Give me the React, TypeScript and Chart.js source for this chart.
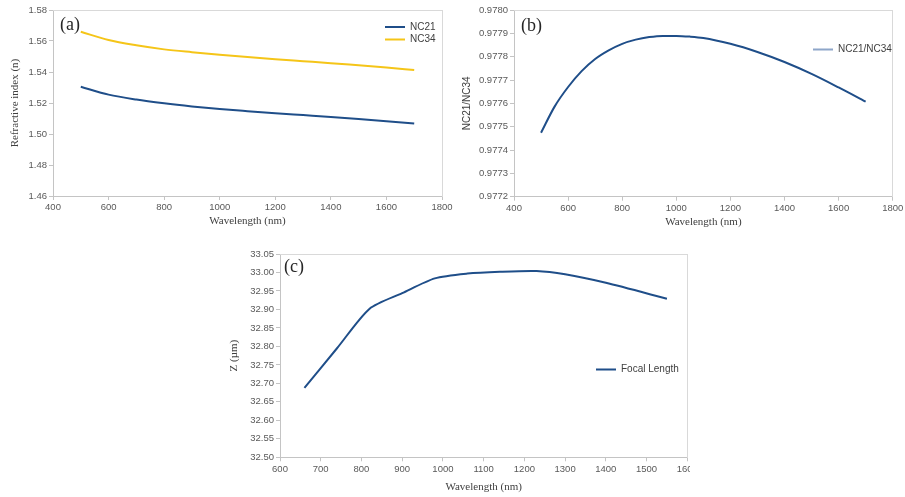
import React, { useEffect, useRef } from 'react';
import { Chart, registerables } from 'chart.js';

Chart.register(...registerables);

// ---------- data ----------
const wavelengthA = [500, 600, 700, 800, 900, 1000, 1100, 1200, 1300, 1400, 1500, 1600, 1700];
const nc21 = [1.5305, 1.5254, 1.5222, 1.5198, 1.5178, 1.5161, 1.5147, 1.5134, 1.5122, 1.511, 1.5097, 1.5083, 1.5067];
const nc34 = [1.566, 1.5606, 1.5572, 1.5546, 1.5528, 1.5512, 1.5497, 1.5483, 1.547, 1.5457, 1.5443, 1.5429, 1.5413];

const wavelengthB = [500, 550, 600, 650, 700, 750, 800, 850, 900, 950, 1000, 1050, 1100, 1200, 1300, 1400, 1500, 1600, 1700];
const ratio = [0.977474, 0.977586, 0.97767, 0.977738, 0.97779, 0.977827, 0.977855, 0.977873, 0.977884, 0.977889, 0.977889, 0.977886, 0.97788, 0.977855, 0.97782, 0.977777, 0.977726, 0.977668, 0.977607];

const wavelengthC = [660, 740, 820, 900, 980, 1060, 1140, 1230, 1300, 1400, 1550];
const focal = [32.688, 32.795, 32.902, 32.944, 32.984, 32.997, 33.002, 33.004, 32.995, 32.972, 32.929];

const labelA = 'NC21';
const labelA2 = 'NC34';
const labelB = 'NC21/NC34';
const labelC = 'Focal Length';

// ---------- styles ----------
const BLUE = '#1F4E89';
const GOLD = '#F5C518';
const LEGEND_B = '#8EA6C9';
const AXIS = '#C4C4C4';
const FRAME = '#D9D9D9';
const TICK_COLOR = '#595959';
const TITLE_COLOR = '#404040';
const SANS = "'Liberation Sans', Arial, sans-serif";
const SERIF = "'Liberation Serif', 'Times New Roman', serif";

const legendPlacer = {
  id: 'legendPlacer',
  afterLayout(chart: any, _args: any, opts: any) {
    const lg = chart.legend;
    if (!lg || opts == null || opts.x == null) return;
    lg.left = opts.x;
    lg.top = opts.y;
    lg.right = opts.x + 160;
    lg.bottom = opts.y + 60;
  },
};

type Spec = {
  width: number;
  height: number;
  pad: { left: number; right: number; top: number; bottom: number };
  yWidth: number;
  xHeight: number;
  xMin: number;
  xMax: number;
  xStep: number;
  yMin: number;
  yMax: number;
  yStep: number;
  yDigits: number;
  xTitle: string;
  yTitle: string;
  yTitleFont: any;
  datasets: any[];
  legendPos: { x: number; y: number };
};

function buildConfig(s: Spec): any {
  const tickFont = { family: SANS, size: 9.5 };
  return {
    type: 'line',
    data: { datasets: s.datasets },
    options: {
      animation: false,
      responsive: false,
      devicePixelRatio: 1,
      layout: { padding: s.pad },
      elements: { point: { radius: 0 } },
      plugins: {
        tooltip: { enabled: false },
        legend: {
          position: 'chartArea',
          align: 'start',
          labels: {
            usePointStyle: true,
            pointStyle: 'line',
            pointStyleWidth: 20,
            padding: 2.5,
            textAlign: 'left',
            color: TITLE_COLOR,
            font: { family: SANS, size: 10 },
          },
        },
        legendPlacer: s.legendPos,
      },
      scales: {
        x: {
          type: 'linear',
          min: s.xMin,
          max: s.xMax,
          ticks: {
            stepSize: s.xStep,
            autoSkip: false,
            maxRotation: 0,
            padding: 2,
            color: TICK_COLOR,
            font: tickFont,
            callback: (v: number) => String(Math.round(v)),
          },
          grid: { display: true, drawOnChartArea: false, drawTicks: true, tickLength: 4, color: AXIS },
          border: { display: true, color: AXIS, width: 1 },
          title: {
            display: true,
            text: s.xTitle,
            color: TITLE_COLOR,
            font: { family: SERIF, size: 11 },
            padding: { top: 0, bottom: 0 },
          },
          afterFit: (sc: any) => {
            sc.height = s.xHeight;
            sc.paddingLeft = 0;
            sc.paddingRight = 0;
          },
        },
        y: {
          type: 'linear',
          min: s.yMin,
          max: s.yMax,
          ticks: {
            stepSize: s.yStep,
            autoSkip: false,
            padding: 2,
            color: TICK_COLOR,
            font: tickFont,
            callback: (v: number) => Number(v).toFixed(s.yDigits),
          },
          grid: { display: true, drawOnChartArea: false, drawTicks: true, tickLength: 4, color: AXIS },
          border: { display: true, color: AXIS, width: 1 },
          title: {
            display: true,
            text: s.yTitle,
            color: TITLE_COLOR,
            font: s.yTitleFont,
            padding: { top: 0, bottom: 0 },
          },
          afterFit: (sc: any) => {
            sc.width = s.yWidth;
            sc.paddingTop = 0;
            sc.paddingBottom = 0;
          },
        },
        x2: {
          type: 'linear',
          position: 'top',
          ticks: { display: false },
          grid: { display: false },
          border: { display: true, color: FRAME, width: 1 },
          afterFit: (sc: any) => {
            sc.height = 0;
            sc.paddingLeft = 0;
            sc.paddingRight = 0;
          },
        },
        y2: {
          type: 'linear',
          position: 'right',
          ticks: { display: false },
          grid: { display: false },
          border: { display: true, color: FRAME, width: 1 },
          afterFit: (sc: any) => {
            sc.width = 0;
            sc.paddingTop = 0;
            sc.paddingBottom = 0;
          },
        },
      },
    },
    plugins: [legendPlacer],
  };
}

function lineDataset(label: string, xs: number[], ys: number[], color: string, legendColor?: string, smoothMode?: string) {
  return {
    label,
    data: xs.map((x, i) => ({ x, y: ys[i] })),
    borderColor: color,
    backgroundColor: color,
    borderWidth: 2,
    pointRadius: 0,
    pointHoverRadius: 0,
    pointBorderColor: legendColor || color,
    pointBackgroundColor: legendColor || color,
    pointBorderWidth: 2,
    cubicInterpolationMode: smoothMode || 'monotone',
    tension: 0.25,
    fill: false,
  };
}

function ChartCanvas({ spec, left, top }: { spec: Spec; left: number; top: number }) {
  const ref = useRef<HTMLCanvasElement | null>(null);
  useEffect(() => {
    if (!ref.current) return;
    const chart = new Chart(ref.current, buildConfig(spec));
    return () => chart.destroy();
  }, []);
  return (
    <canvas
      ref={ref}
      width={spec.width}
      height={spec.height}
      style={{ position: 'absolute', left, top, width: spec.width, height: spec.height }}
    />
  );
}

const specA: Spec = {
  width: 455,
  height: 232,
  pad: { left: 9, right: 13, top: 10, bottom: 4.7 },
  yWidth: 44,
  xHeight: 31.3,
  xMin: 400,
  xMax: 1800,
  xStep: 200,
  yMin: 1.46,
  yMax: 1.58,
  yStep: 0.02,
  yDigits: 2,
  xTitle: 'Wavelength (nm)',
  yTitle: 'Refractive index (n)',
  yTitleFont: { family: SERIF, size: 11 },
  datasets: [lineDataset(labelA, wavelengthA, nc21, BLUE), lineDataset(labelA2, wavelengthA, nc34, GOLD)],
  legendPos: { x: 382.5, y: 19.5 },
};

const specB: Spec = {
  width: 450,
  height: 232,
  pad: { left: 6.5, right: 12.3, top: 10, bottom: 3.7 },
  yWidth: 52.5,
  xHeight: 31.6,
  xMin: 400,
  xMax: 1800,
  xStep: 200,
  yMin: 0.9772,
  yMax: 0.978,
  yStep: 0.0001,
  yDigits: 4,
  xTitle: 'Wavelength (nm)',
  yTitle: 'NC21/NC34',
  yTitleFont: { family: SANS, size: 10 },
  datasets: [lineDataset(labelB, wavelengthB, ratio, BLUE, LEGEND_B)],
  legendPos: { x: 355.5, y: 42 },
};

const specC: Spec = {
  width: 480,
  height: 257,
  pad: { left: 17.4, right: 2.7, top: 14, bottom: 3.1 },
  yWidth: 52.6,
  xHeight: 36.6,
  xMin: 600,
  xMax: 1600,
  xStep: 100,
  yMin: 32.5,
  yMax: 33.05,
  yStep: 0.05,
  yDigits: 2,
  xTitle: 'Wavelength (nm)',
  yTitle: 'Z (\u00B5m)',
  yTitleFont: { family: SERIF, size: 11 },
  datasets: [lineDataset(labelC, wavelengthC, focal, BLUE, undefined, 'default')],
  legendPos: { x: 383.5, y: 122 },
};

const panelLabel: React.CSSProperties = {
  position: 'absolute',
  fontFamily: SERIF,
  fontSize: 18,
  lineHeight: '18px',
  color: '#262626',
  margin: 0,
  whiteSpace: 'nowrap',
};

export default function App() {
  return (
    <div style={{ position: 'absolute', left: 0, top: 0, width: 905, height: 497, background: '#ffffff', overflow: 'hidden' }}>
      <ChartCanvas spec={specA} left={0} top={0} />
      <ChartCanvas spec={specB} left={455} top={0} />
      <ChartCanvas spec={specC} left={210} top={240} />
      <div style={{ ...panelLabel, left: 60, top: 15 }}>(a)</div>
      <div style={{ ...panelLabel, left: 521, top: 16 }}>(b)</div>
      <div style={{ ...panelLabel, left: 284, top: 257 }}>(c)</div>
    </div>
  );
}
